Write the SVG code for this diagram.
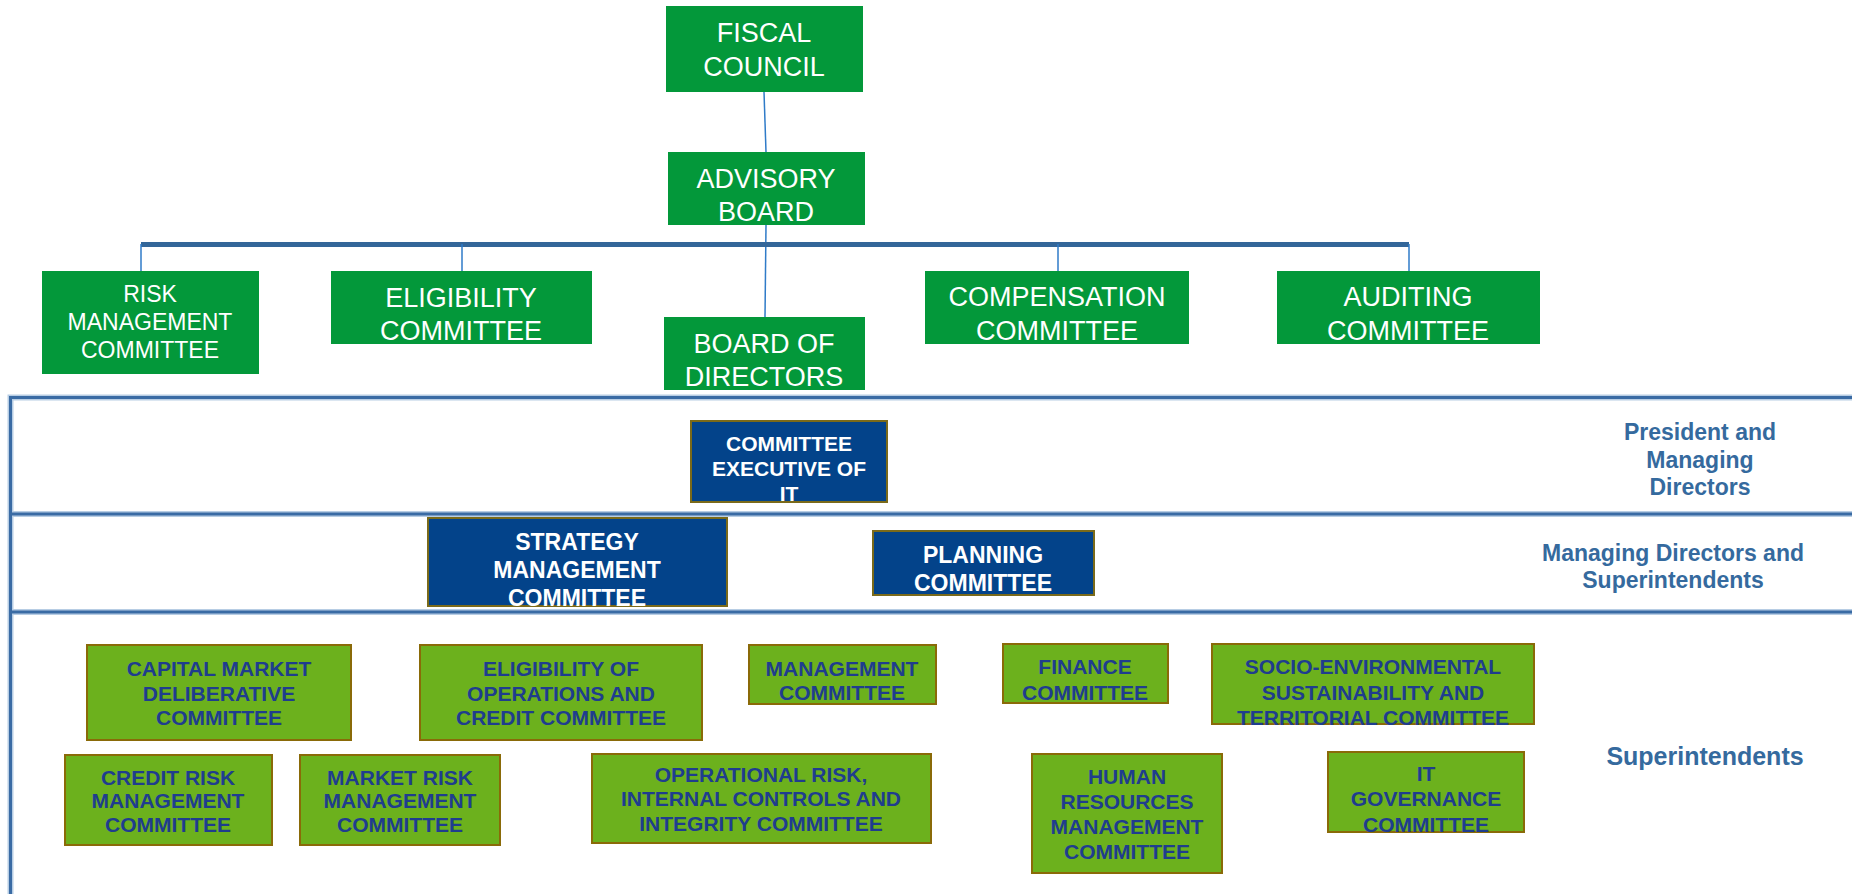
<svg xmlns="http://www.w3.org/2000/svg" width="1852" height="894" viewBox="0 0 1852 894">
<style>
text{font-family:"Liberation Sans",Arial,sans-serif;text-anchor:middle}
.g rect{fill:#03983A}
.g text{fill:#fff;font-size:27px}
.n rect{fill:#03438A;stroke:#7A6A1A;stroke-width:2}
.n text{fill:#fff;font-size:23px;font-weight:bold}
.l rect{fill:#6CB11D;stroke:#8A6A08;stroke-width:2}
.l text{fill:#1F3D8E;font-size:21px;font-weight:bold}
.lab{fill:#356A9E;font-size:23px;font-weight:bold}
.halo{stroke:#B7CDE4;stroke-width:6;fill:none}
.band{stroke:#3A6BA4;stroke-width:3;fill:none}
.thin{stroke:#2F7BC8;stroke-width:1.5;fill:none}
</style>
<rect width="1852" height="894" fill="#fff"/>
<g id="bands">
<path class="halo" d="M10.5 894V397.5H1852M10.5 514H1852M10.5 612H1852"/>
<path class="band" d="M10.5 894V397.5H1852M10.5 514H1852M10.5 612H1852"/>
</g>
<g id="connectors">
<line class="thin" x1="764" y1="92" x2="766" y2="152"/>
<line class="thin" x1="766" y1="225" x2="765" y2="317" stroke="#4A9AD8"/>
<line x1="141" y1="244.5" x2="1409" y2="244.5" stroke="#336699" stroke-width="5"/>
<line class="thin" x1="141" y1="244" x2="141" y2="271"/>
<line class="thin" x1="462" y1="244" x2="462" y2="271"/>
<line class="thin" x1="1058" y1="244" x2="1058" y2="271"/>
<line class="thin" x1="1409" y1="244" x2="1409" y2="271"/>
</g>
<g id="fiscal-council" class="g"><rect x="666" y="6" width="197" height="86"/><text x="764" y="42">FISCAL</text><text x="764" y="76">COUNCIL</text></g>
<g id="advisory-board" class="g"><rect x="668" y="152" width="197" height="73"/><text x="766" y="188">ADVISORY</text><text x="766" y="221">BOARD</text></g>
<g id="risk-management" class="g"><rect x="42" y="271" width="217" height="103"/><text x="150" y="302" style="font-size:23px">RISK</text><text x="150" y="330" style="font-size:23px">MANAGEMENT</text><text x="150" y="358" style="font-size:23px">COMMITTEE</text></g>
<g id="eligibility" class="g"><rect x="331" y="271" width="261" height="73"/><text x="461" y="307">ELIGIBILITY</text><text x="461" y="340">COMMITTEE</text></g>
<g id="board-of-directors" class="g"><rect x="664" y="317" width="201" height="73"/><text x="764" y="353">BOARD OF</text><text x="764" y="386">DIRECTORS</text></g>
<g id="compensation" class="g"><rect x="925" y="271" width="264" height="73"/><text x="1057" y="306">COMPENSATION</text><text x="1057" y="340">COMMITTEE</text></g>
<g id="auditing" class="g"><rect x="1277" y="271" width="263" height="73"/><text x="1408" y="306">AUDITING</text><text x="1408" y="340">COMMITTEE</text></g>
<g id="exec-it" class="n"><rect x="691" y="421" width="196" height="81"/><text x="789" y="451" style="font-size:21px">COMMITTEE</text><text x="789" y="476" style="font-size:21px">EXECUTIVE OF</text><text x="789" y="501" style="font-size:21px">IT</text></g>
<g id="strategy" class="n"><rect x="428" y="518" width="299" height="88"/><text x="577" y="550">STRATEGY</text><text x="577" y="578">MANAGEMENT</text><text x="577" y="606">COMMITTEE</text></g>
<g id="planning" class="n"><rect x="873" y="531" width="221" height="64"/><text x="983" y="563">PLANNING</text><text x="983" y="591">COMMITTEE</text></g>
<g id="capital-market" class="l"><rect x="87" y="645" width="264" height="95"/><text x="219" y="675.5">CAPITAL MARKET</text><text x="219" y="700.5">DELIBERATIVE</text><text x="219" y="724.5">COMMITTEE</text></g>
<g id="eligibility-ops" class="l"><rect x="420" y="645" width="282" height="95"/><text x="561" y="675.5">ELIGIBILITY OF</text><text x="561" y="700.5">OPERATIONS AND</text><text x="561" y="724.5">CREDIT COMMITTEE</text></g>
<g id="management" class="l"><rect x="749" y="645" width="187" height="59"/><text x="842" y="675.5">MANAGEMENT</text><text x="842" y="699.5">COMMITTEE</text></g>
<g id="finance" class="l"><rect x="1003" y="644" width="165" height="59"/><text x="1085" y="673.5">FINANCE</text><text x="1085" y="699.5">COMMITTEE</text></g>
<g id="socio-env" class="l"><rect x="1212" y="644" width="322" height="80"/><text x="1373" y="673.5">SOCIO-ENVIRONMENTAL</text><text x="1373" y="699.5">SUSTAINABILITY AND</text><text x="1373" y="724.5">TERRITORIAL COMMITTEE</text></g>
<g id="credit-risk" class="l"><rect x="65" y="755" width="207" height="90"/><text x="168" y="784.5">CREDIT RISK</text><text x="168" y="807.5">MANAGEMENT</text><text x="168" y="831.5">COMMITTEE</text></g>
<g id="market-risk" class="l"><rect x="300" y="755" width="200" height="90"/><text x="400" y="784.5">MARKET RISK</text><text x="400" y="807.5">MANAGEMENT</text><text x="400" y="831.5">COMMITTEE</text></g>
<g id="operational-risk" class="l"><rect x="592" y="754" width="339" height="89"/><text x="761" y="781.5">OPERATIONAL RISK,</text><text x="761" y="805.5">INTERNAL CONTROLS AND</text><text x="761" y="830.5">INTEGRITY COMMITTEE</text></g>
<g id="human-resources" class="l"><rect x="1032" y="754" width="190" height="119"/><text x="1127" y="783.5">HUMAN</text><text x="1127" y="808.5">RESOURCES</text><text x="1127" y="833.5">MANAGEMENT</text><text x="1127" y="858.5">COMMITTEE</text></g>
<g id="it-governance" class="l"><rect x="1328" y="752" width="196" height="80"/><text x="1426" y="780.5">IT</text><text x="1426" y="805.5">GOVERNANCE</text><text x="1426" y="831.5">COMMITTEE</text></g>
<g id="labels">
<text class="lab" x="1700" y="440">President and</text><text class="lab" x="1700" y="468">Managing</text><text class="lab" x="1700" y="495">Directors</text>
<text class="lab" x="1673" y="561">Managing Directors and</text><text class="lab" x="1673" y="588">Superintendents</text>
<text class="lab" x="1705" y="765" style="font-size:25px">Superintendents</text>
</g>
</svg>
